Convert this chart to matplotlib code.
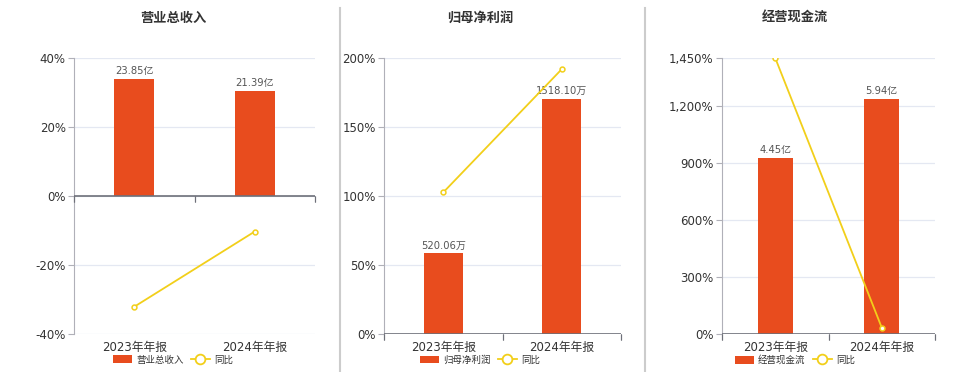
import matplotlib.pyplot as plt
from matplotlib.lines import Line2D
from matplotlib.patches import Patch
from matplotlib.ticker import FuncFormatter
import matplotlib.transforms as mtransforms

plt.rcParams['font.family'] = ['DejaVu Sans', 'Noto Sans CJK SC']

# Data
periods = ['2023年年报', '2024年年报']
titles = ['营业总收入', '归母净利润', '经营现金流']
bar_values = [[23.85, 21.39], [520.06, 1518.10], [4.45, 5.94]]
bar_labels = [['23.85亿', '21.39亿'], ['520.06万', '1518.10万'], ['4.45亿', '5.94亿']]
yoy_values = [[-32.1, -10.3], [102.6, 191.9], [1450.0, 33.5]]
yoy_ticks = [[-40, -20, 0, 20, 40], [0, 50, 100, 150, 200], [0, 300, 600, 900, 1200, 1450]]
# hidden bar axis ranges (bars share the zero line of the percent axis)
bar_ranges = [(-28.1, 28.1), (0, 1783), (0, 6.98)]

bar_color = '#E84C1E'
line_color = '#F2CF1A'
grid_color = '#E4E8F2'

fig = plt.figure(figsize=(9.6, 3.72), dpi=100)

# axes rectangles in figure pixels (left, right) and title/legend centres
x_spans = [(74, 315), (384, 621), (722, 935)]
centers = [173, 480, 795]
W, H = 960.0, 372.0
top, bottom = 58, 334

for k in range(3):
    l, r = x_spans[k]
    ax = fig.add_axes([l / W, 1 - bottom / H, (r - l) / W, (bottom - top) / H])
    ax_bar = ax.twinx()
    ax_line = ax.twinx()

    xs = list(range(len(periods)))
    yt = yoy_ticks[k]

    # percent axis: grid, ticks, spines
    ax.set_ylim(yt[0], yt[-1])
    ax.set_yticks(yt)
    ax.yaxis.set_major_formatter(FuncFormatter(lambda v, p: '{:,.0f}%'.format(v)))
    ax.tick_params(axis='y', length=4, width=0.8, color='#b0b0b8', labelsize=8.5,
                   labelcolor='#333333', pad=2)
    ax.grid(axis='y', color=grid_color, lw=0.9)

    ax.set_xlim(-0.5, 1.5)
    ax.set_xticks([])

    ax.spines['top'].set_visible(False)
    ax.spines['right'].set_visible(False)
    ax.spines['left'].set_color('#b0b0b8')
    ax.spines['bottom'].set_visible(False)

    # bars on hidden axis
    bars = ax_bar.bar(xs, bar_values[k], width=0.33, color=bar_color, zorder=2)
    ax_bar.set_ylim(*bar_ranges[k])
    ax_bar.set_yticks([])
    for s in ax_bar.spines.values():
        s.set_visible(False)
    for b, lab in zip(bars, bar_labels[k]):
        ax_bar.annotate(lab, (b.get_x() + b.get_width() / 2, b.get_height()),
                        xytext=(0, 2), textcoords='offset points',
                        ha='center', va='bottom', fontsize=7.2, color='#555555')

    # yoy line on top, same scale as percent axis
    ax_line.set_ylim(yt[0], yt[-1])
    ax_line.set_yticks([])
    for s in ax_line.spines.values():
        s.set_visible(False)
    ax_line.axhline(0, color='#6e7079', lw=1.2, zorder=1)
    ax_line.plot(xs, yoy_values[k], color=line_color, lw=1.3, marker='o', ms=3.5,
                 mfc='white', mec=line_color, mew=1.1, zorder=3)
    ax_line.set_xlim(-0.5, 1.5)

    trans = mtransforms.blended_transform_factory(ax.transData, ax.transAxes)
    for x, p in zip(xs, periods):
        ax.text(x, -0.025, p, transform=trans, ha='center', va='top',
                fontsize=8.5, color='#333333')
    # category boundary ticks on the zero line
    for xb in [-0.5, 0.5, 1.5]:
        ax_line.plot([xb, xb], [0, 0], marker='|', ms=4, mew=0.8, color='#6e7079',
                     transform=mtransforms.offset_copy(ax_line.transData, fig=fig, y=-2, units='points'),
                     clip_on=False)

    fig.text(centers[k] / W, 1 - 18 / H, titles[k], ha='center', va='center',
             fontsize=9.5, fontweight='bold', color='#333333')

    handles = [Patch(facecolor=bar_color, edgecolor='none'),
               Line2D([0], [0], color=line_color, lw=1.3, marker='o', ms=7,
                      mfc='white', mec=line_color, mew=1.3)]
    fig.legend(handles, [titles[k], '同比'], loc='center',
               bbox_to_anchor=(centers[k] / W, 1 - 360 / H), ncol=2, frameon=False,
               fontsize=6.8, labelcolor='#333333', handlelength=2.0, handleheight=0.9,
               handletextpad=0.4, columnspacing=0.8, borderpad=0)

# vertical dividers between panels
for xd in [340, 645]:
    fig.add_artist(Line2D([xd / W, xd / W], [0, 1 - 8 / H], color='#cccccc', lw=1.5))

fig.savefig('out.png', dpi=100, facecolor='white')
